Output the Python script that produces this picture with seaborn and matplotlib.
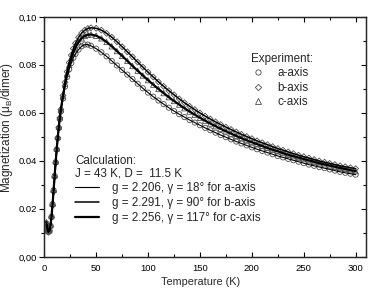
import pandas as pd
import matplotlib
matplotlib.use('Agg')
import matplotlib.pyplot as plt
from matplotlib.lines import Line2D
from matplotlib.ticker import MultipleLocator, FixedLocator, FixedFormatter
import seaborn as sns

# Temperature (K)
temperature = [2, 3, 4, 5, 6, 7, 8, 9, 10, 11, 12, 13, 14, 15, 16,
               18, 20, 22, 24, 26, 28, 30, 33, 36, 39, 42, 45,
               50, 55, 60, 65, 70, 75, 80, 85, 90, 95, 100, 105, 110, 115, 120,
               125, 130, 135, 140, 145, 150, 155, 160, 165, 170, 175, 180, 185,
               190, 195, 200, 205, 210, 215, 220, 225, 230, 235, 240, 245, 250,
               255, 260, 265, 270, 275, 280, 285, 290, 295, 300]

# Magnetization (mu_B/dimer)
m_a = [0.0140, 0.0118, 0.0105, 0.0110, 0.0130, 0.0168, 0.0220, 0.0278, 0.0338,
       0.0395, 0.0448, 0.0495, 0.0537, 0.0574, 0.0606,
       0.0660, 0.0710, 0.0750, 0.0782, 0.0808, 0.0830, 0.0846,
       0.0864, 0.0878, 0.0885, 0.0885, 0.0880,
       0.0868, 0.0853, 0.0836, 0.0817, 0.0798, 0.0779, 0.0760, 0.0741, 0.0722,
       0.0703, 0.0685, 0.0668, 0.0652, 0.0637, 0.0622, 0.0608, 0.0595, 0.0583,
       0.0571, 0.0560, 0.0549, 0.0538, 0.0528, 0.0518, 0.0508, 0.0499, 0.0490,
       0.0481, 0.0473, 0.0465, 0.0457, 0.0449, 0.0442, 0.0435, 0.0428, 0.0421,
       0.0415, 0.0409, 0.0403, 0.0397, 0.0391, 0.0385, 0.0380, 0.0375, 0.0370,
       0.0365, 0.0360, 0.0355, 0.0351, 0.0347, 0.0343]
m_b = [0.0135, 0.0112, 0.0103, 0.0108, 0.0128, 0.0165, 0.0215, 0.0272, 0.0333,
       0.0392, 0.0447, 0.0496, 0.0540, 0.0580, 0.0615,
       0.0673, 0.0728, 0.0772, 0.0810, 0.0841, 0.0868, 0.0890,
       0.0915, 0.0933, 0.0945, 0.0952, 0.0955,
       0.0953, 0.0945, 0.0932, 0.0916, 0.0897, 0.0876, 0.0855, 0.0834, 0.0812,
       0.0791, 0.0770, 0.0750, 0.0730, 0.0711, 0.0693, 0.0676, 0.0659, 0.0643,
       0.0628, 0.0614, 0.0600, 0.0587, 0.0575, 0.0563, 0.0552, 0.0541, 0.0531,
       0.0521, 0.0511, 0.0502, 0.0493, 0.0484, 0.0476, 0.0468, 0.0460, 0.0452,
       0.0445, 0.0438, 0.0431, 0.0424, 0.0418, 0.0412, 0.0406, 0.0400, 0.0395,
       0.0390, 0.0385, 0.0380, 0.0376, 0.0372, 0.0368]
m_c = [0.0145, 0.0120, 0.0108, 0.0112, 0.0132, 0.0170, 0.0222, 0.0280, 0.0340,
       0.0398, 0.0452, 0.0500, 0.0543, 0.0582, 0.0615,
       0.0670, 0.0722, 0.0764, 0.0800, 0.0829, 0.0853, 0.0873,
       0.0895, 0.0911, 0.0921, 0.0926, 0.0927,
       0.0922, 0.0911, 0.0896, 0.0878, 0.0858, 0.0838, 0.0817, 0.0796, 0.0776,
       0.0756, 0.0737, 0.0718, 0.0700, 0.0683, 0.0666, 0.0650, 0.0635, 0.0620,
       0.0606, 0.0593, 0.0580, 0.0568, 0.0556, 0.0545, 0.0534, 0.0524, 0.0514,
       0.0504, 0.0495, 0.0486, 0.0478, 0.0470, 0.0462, 0.0454, 0.0447, 0.0440,
       0.0433, 0.0426, 0.0420, 0.0414, 0.0408, 0.0402, 0.0397, 0.0391, 0.0386,
       0.0381, 0.0376, 0.0371, 0.0367, 0.0362, 0.0358]

axis_names = ['a-axis', 'b-axis', 'c-axis']
calc_labels = ['g = 2.206, γ = 18° for a-axis',
               'g = 2.291, γ = 90° for b-axis',
               'g = 2.256, γ = 117° for c-axis']
y_ticks = [0.00, 0.02, 0.04, 0.06, 0.08, 0.10]
y_tick_labels = ['0,00', '0.02', '0.04', '0.06', '0.08', '0,10']

markers = ['o', 'D', '^']
marker_sizes = [14, 9, 15]
line_widths = [0.8, 1.1, 1.6]

sns.set_style('ticks')
plt.rcParams['font.family'] = ['Liberation Sans', 'DejaVu Sans']
plt.rcParams['mathtext.default'] = 'regular'

df = pd.DataFrame({'T': temperature * 3,
                   'M': m_a + m_b + m_c,
                   'axis': [n for n in axis_names for _ in temperature]})

fig = plt.figure(figsize=(3.74, 2.93), dpi=100)
ax = fig.add_axes([0.1184, 0.1229, 0.8602, 0.8191])

for name, mk, ms, lw in zip(axis_names, markers, marker_sizes, line_widths):
    sub = df[df['axis'] == name]
    sns.scatterplot(data=sub, x='T', y='M', marker=mk, s=ms, ax=ax,
                    facecolors='none', edgecolor='0.3', linewidth=0.6,
                    legend=False, zorder=2)
    sns.lineplot(data=sub, x='T', y='M', color='black', lw=lw, ax=ax,
                 legend=False, zorder=3)

ax.set_xlim(0, 310)
ax.set_ylim(0, 0.10)
ax.xaxis.set_major_locator(MultipleLocator(50))
ax.xaxis.set_minor_locator(MultipleLocator(25))
ax.yaxis.set_major_locator(FixedLocator(y_ticks))
ax.yaxis.set_major_formatter(FixedFormatter(y_tick_labels))
ax.yaxis.set_minor_locator(MultipleLocator(0.01))
for s in ax.spines.values():
    s.set_visible(True)
    s.set_linewidth(0.9)
ax.tick_params(axis='both', which='both', width=0.8, labelsize=6.8,
               colors='black')
ax.tick_params(axis='x', which='both', direction='in', top=True)
ax.tick_params(axis='x', which='major', length=3.5, pad=5)
ax.tick_params(axis='x', which='minor', length=2)
# left ticks point out, right ticks point in (mirror axis)
ax.tick_params(axis='y', which='both', direction='out', right=False)
ax.tick_params(axis='y', which='major', length=3.5, pad=2)
ax.tick_params(axis='y', which='minor', length=2)

ax_r = ax.twinx()
ax_r.set_ylim(ax.get_ylim())
ax_r.yaxis.set_major_locator(FixedLocator(y_ticks))
ax_r.yaxis.set_minor_locator(MultipleLocator(0.01))
ax_r.tick_params(axis='y', which='both', direction='in', width=0.8,
                 labelright=False, colors='black')
ax_r.tick_params(axis='y', which='major', length=3.5)
ax_r.tick_params(axis='y', which='minor', length=2)
for s in ax_r.spines.values():
    s.set_linewidth(0.9)

ax.set_xlabel('Temperature (K)', fontsize=7.8)
ax.set_ylabel('Magnetization (μ$_B$/dimer)', fontsize=8.5)
ax.xaxis.set_label_coords(0.487, -0.085)
ax.yaxis.set_label_coords(-0.09, 0.54)

exp_handles = [Line2D([], [], ls='none', marker=mk, mfc='none', mec='0.3',
                      ms=3.8 if mk != 'D' else 3.2, mew=0.6) for mk in markers]
leg1 = ax.legend(exp_handles, axis_names, title='Experiment:', frameon=False,
                 loc='upper left', bbox_to_anchor=(251 / 374, 1 - 53 / 293),
                 bbox_transform=fig.transFigure, borderpad=0, borderaxespad=0,
                 fontsize=8.4, title_fontsize=8.4, handlelength=1.25,
                 handletextpad=1.0, labelspacing=0.2, alignment='left')
ax.add_artist(leg1)

calc_handles = [Line2D([], [], color='black', lw=lw) for lw in line_widths]
leg2 = ax.legend(calc_handles, calc_labels,
                 title='Calculation:\nJ = 43 K, D =  11.5 K', frameon=False,
                 loc='upper left', bbox_to_anchor=(75 / 374, 1 - 155 / 293),
                 bbox_transform=fig.transFigure, borderpad=0, borderaxespad=0,
                 fontsize=8.4, title_fontsize=8.4, handlelength=2.05,
                 handletextpad=1.1, labelspacing=0.25, alignment='left')
leg2.get_title().set_linespacing(1.05)

fig.savefig('out.png', dpi=100)
